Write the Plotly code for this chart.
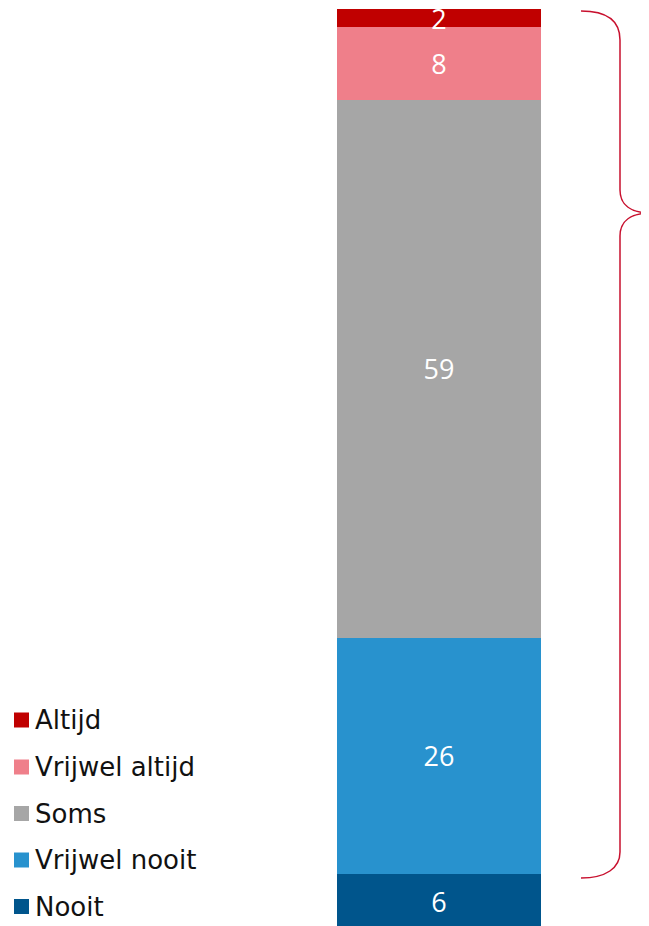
import plotly.graph_objects as go

# ---- data ----
categories = ["Nooit", "Vrijwel nooit", "Soms", "Vrijwel altijd", "Altijd"]
values = [6, 26, 59, 8, 2]
colors = ["#00558C", "#2892CE", "#A6A6A6", "#EF7F8A", "#C00000"]
legend_order = ["Altijd", "Vrijwel altijd", "Soms", "Vrijwel nooit", "Nooit"]

W, H = 649, 926
T, B = 1, 5
OFF = 8  # page body margin

def px_x(p):
    return (p - OFF) / W

def px_y(p):
    return (H - B - (p - OFF)) / (H - T - B)

fig = go.Figure()
for cat, val, col in zip(categories, values, colors):
    fig.add_trace(go.Bar(
        x=[0], y=[val], name=cat, width=1,
        marker=dict(color=col, line=dict(width=0)),
        text=[str(val)], textposition="inside", insidetextanchor="middle",
        constraintext="none", textangle=0, cliponaxis=False,
        textfont=dict(family="Open Sans", size=27, color="white"),
        showlegend=False, hoverinfo="skip",
    ))

# custom legend
shapes = []
annotations = []
leg_y = [720, 767, 813.5, 860, 906.5]
color_map = dict(zip(categories, colors))
for name, cy in zip(legend_order, leg_y):
    shapes.append(dict(type="rect", xref="paper", yref="paper",
                       x0=px_x(14), x1=px_x(29), y0=px_y(cy - 7.5), y1=px_y(cy + 7.5),
                       fillcolor=color_map[name], line=dict(width=0)))
    annotations.append(dict(xref="paper", yref="paper", x=px_x(33), y=px_y(cy),
                            xanchor="left", yanchor="middle", showarrow=False,
                            text=name, font=dict(family="DejaVu Sans", size=26, color="#111111")))

# curly brace
pts = [(581, 11), (606, 11), (620, 20), (620, 40),
       (620, 190), (620, 205), (631, 212.5), (649, 213),
       (631, 213.5), (620, 221), (620, 236),
       (620, 852), (620, 868), (606, 878), (581, 878)]
def P(p):
    return f"{px_x(p[0]):.5f},{px_y(p[1]):.5f}"
path = (f"M {P(pts[0])} C {P(pts[1])} {P(pts[2])} {P(pts[3])} "
        f"L {P(pts[4])} C {P(pts[5])} {P(pts[6])} {P(pts[7])} "
        f"C {P(pts[8])} {P(pts[9])} {P(pts[10])} "
        f"L {P(pts[11])} C {P(pts[12])} {P(pts[13])} {P(pts[14])}")
shapes.append(dict(type="path", xref="paper", yref="paper", path=path,
                   line=dict(color="#C8102E", width=1.5)))

bar_l, bar_r = 337 - OFF, 541 - OFF
bar_w = bar_r - bar_l
fig.update_layout(
    width=W, height=H,
    margin=dict(l=0, r=0, t=T, b=B),
    barmode="stack",
    plot_bgcolor="white", paper_bgcolor="white",
    xaxis=dict(range=[-0.5 - bar_l / bar_w, 0.5 + (W - bar_r) / bar_w], visible=False, fixedrange=True),
    yaxis=dict(range=[0, 101], visible=False, fixedrange=True),
    shapes=shapes, annotations=annotations,
    showlegend=False,
)

fig.write_html("out.html")
